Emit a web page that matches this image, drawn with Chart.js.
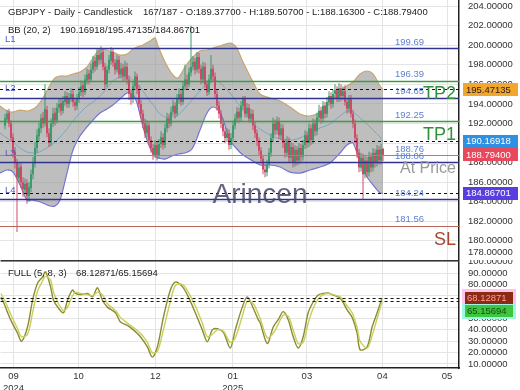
<!DOCTYPE html>
<html>
<head>
<meta charset="utf-8">
<script src="https://cdn.jsdelivr.net/npm/chart.js@4.4.0/dist/chart.umd.min.js"></script>
<style>
  html, body { margin: 0; padding: 0; background: #fff; }
  #wrap { position: relative; width: 520px; height: 390px; overflow: hidden; }
  #priceChart { position: absolute; left: 0; top: 0; }
  #stochChart { position: absolute; left: 0; top: 260px; }
</style>
</head>
<body>
<div id="wrap">
  <canvas id="priceChart" width="520" height="260"></canvas>
  <canvas id="stochChart" width="520" height="130"></canvas>
</div>
<script>
/* GBPJPY daily candles + BB(20,2) + stochastic FULL(5,8,3) */

// ---- candles (index 0..189) ----
const candleOpen = [
  191.8,192.4,193.1,192.0,190.6,189.1,188.0,186.4,187.6,186.0,
  185.2,185.9,184.6,185.4,186.8,187.9,189.5,190.7,191.5,192.6,
  192.0,193.4,191.0,190.0,192.0,193.1,192.3,193.6,194.1,193.3,
  194.2,194.8,194.0,194.6,195.0,194.2,193.8,194.5,195.2,195.9,
  195.2,196.4,197.1,196.5,197.5,198.4,197.8,199.0,198.5,199.3,
  197.8,196.0,197.5,198.4,199.3,198.2,197.5,198.5,197.0,197.7,
  196.8,197.8,196.5,195.0,194.5,195.8,196.8,195.5,194.0,193.0,
  192.0,191.0,191.8,190.3,189.5,188.8,189.8,188.7,189.9,190.6,
  189.8,191.5,192.5,192.0,193.2,193.8,193.0,194.5,195.0,194.2,
  195.8,196.5,196.0,197.2,197.8,198.3,197.5,198.8,197.6,196.5,
  197.8,196.0,195.2,196.5,197.6,196.8,195.0,193.8,193.0,192.0,
  191.2,190.5,191.0,189.8,190.5,191.8,192.5,193.2,192.6,193.8,
  194.5,193.0,193.6,192.5,193.0,191.8,191.0,190.2,189.2,188.4,
  187.3,187.0,187.8,189.0,190.5,192.0,191.3,192.2,190.8,191.5,
  190.0,189.0,190.2,188.5,189.6,188.0,189.3,188.2,189.5,188.6,
  189.8,190.8,190.0,191.5,190.3,192.0,191.2,192.6,193.3,192.5,
  193.8,193.0,194.2,194.8,194.0,195.0,195.4,194.6,195.6,194.8,
  195.3,194.2,193.5,194.5,193.0,192.0,190.5,189.0,187.5,188.5,
  186.8,188.2,187.0,188.6,187.5,189.0,188.0,189.3,188.2,189.377
];
const candleHigh = [
  193.0,193.4,193.5,192.3,191.0,189.6,188.4,188.0,188.0,186.5,
  186.4,186.3,186.0,187.3,188.6,190.1,191.4,192.1,193.0,193.2,
  196.0,193.8,191.5,192.5,193.6,193.6,194.1,194.6,194.5,194.8,
  195.3,195.2,195.1,195.6,195.4,194.6,195.0,195.7,196.4,196.3,
  197.0,197.6,197.5,198.1,198.9,198.8,199.7,199.5,199.9,199.7,
  198.2,197.9,199.0,199.8,199.7,198.6,199.0,198.9,198.2,198.1,
  198.4,198.2,196.9,195.5,196.3,197.3,197.1,195.9,194.4,193.4,
  192.5,192.3,192.1,190.7,189.9,190.3,190.1,190.4,191.2,191.0,
  192.0,193.1,193.0,193.7,194.4,194.2,195.0,195.6,195.4,196.3,
  198.0,197.0,197.7,202.0,198.9,198.7,199.3,199.2,198.0,198.3,
  198.2,196.4,197.0,199.0,198.0,197.2,195.4,194.3,193.4,192.5,
  191.6,191.5,191.4,191.0,192.3,193.0,193.7,193.6,194.3,194.8,
  194.8,194.1,194.0,193.5,193.4,192.2,191.4,190.6,189.6,188.8,
  187.8,188.3,189.5,191.0,192.6,192.4,192.7,192.6,192.0,191.9,
  190.4,190.7,190.6,190.1,190.0,189.8,189.7,190.0,189.9,190.3,
  191.3,191.2,192.0,191.9,192.5,192.4,193.1,193.9,193.7,194.3,
  194.2,194.7,195.3,195.2,195.5,196.0,195.8,196.1,196.0,195.8,
  195.9,194.6,194.9,194.9,193.4,192.4,190.9,189.4,189.0,188.9,
  188.7,188.6,189.1,189.0,189.5,189.4,189.8,189.7,189.9,189.507
];
const candleLow = [
  191.4,192.1,191.6,190.1,188.5,187.4,180.9,186.0,185.4,184.5,
  184.8,183.8,184.0,185.0,186.3,187.5,189.0,190.2,191.0,191.5,
  191.7,190.6,189.6,189.7,191.6,191.8,192.0,193.1,192.8,193.0,
  193.8,193.6,193.6,194.2,193.7,193.3,193.4,194.1,194.8,194.7,
  194.9,196.0,196.0,196.2,197.1,197.3,197.5,198.0,198.1,197.4,
  195.5,195.7,197.1,198.0,197.8,197.0,197.2,196.6,196.6,196.3,
  196.4,196.0,194.4,193.9,194.1,195.4,195.0,193.6,192.5,191.5,
  190.5,190.6,189.8,189.0,188.3,188.5,188.2,188.4,189.5,189.3,
  189.5,191.1,191.5,191.7,192.8,192.5,192.7,194.0,193.8,193.9,
  195.4,195.5,195.7,196.8,197.4,197.0,197.2,197.1,196.0,196.1,
  195.6,194.8,194.9,196.1,196.3,194.6,193.3,192.5,191.5,190.7,
  190.0,190.1,189.3,189.4,190.1,191.4,192.1,192.1,192.2,193.4,
  192.6,192.6,192.1,192.1,191.3,190.5,189.7,188.7,187.9,186.8,
  186.5,186.6,187.4,188.6,190.1,190.8,190.9,190.4,190.3,189.5,
  188.5,188.6,188.0,188.1,187.5,187.6,187.7,187.8,188.1,188.2,
  189.4,189.5,189.6,189.8,189.9,190.7,190.8,192.2,192.0,192.1,
  192.5,192.6,193.8,193.5,193.6,194.6,194.2,194.2,194.3,194.4,
  193.8,193.0,193.1,192.6,191.5,190.0,188.5,187.0,187.1,184.3,
  186.4,186.5,186.6,187.0,187.1,187.5,187.6,187.8,187.8,188.163
];
const candleClose = [
  192.5,193.0,192.0,190.5,189.0,188.0,186.5,187.5,186.0,185.3,
  185.8,184.6,185.5,186.8,188.0,189.5,190.8,191.5,192.5,192.0,
  193.5,191.0,190.0,192.0,193.0,192.3,193.6,194.0,193.3,194.3,
  194.8,194.0,194.6,195.0,194.2,193.8,194.5,195.2,195.8,195.2,
  196.5,197.0,196.5,197.5,198.3,197.8,199.0,198.5,199.2,197.8,
  196.0,197.5,198.5,199.3,198.2,197.5,198.5,197.0,197.6,196.8,
  197.8,196.5,195.0,194.5,195.8,196.8,195.5,194.0,193.0,192.0,
  191.0,191.8,190.3,189.5,188.8,189.8,188.7,189.9,190.6,189.8,
  191.5,192.5,192.0,193.2,193.8,193.0,194.5,195.0,194.2,195.8,
  196.5,196.0,197.2,197.8,198.3,197.5,198.8,197.6,196.5,197.8,
  196.0,195.2,196.5,197.6,196.8,195.0,193.8,193.0,192.0,191.2,
  190.5,191.0,189.8,190.5,191.8,192.5,193.2,192.6,193.8,194.5,
  193.0,193.6,192.5,193.0,191.8,191.0,190.2,189.2,188.4,187.3,
  187.0,187.8,189.0,190.5,192.0,191.3,192.2,190.8,191.5,190.0,
  189.0,190.2,188.5,189.6,188.0,189.3,188.2,189.5,188.6,189.8,
  190.8,190.0,191.5,190.3,192.0,191.2,192.6,193.3,192.5,193.8,
  193.0,194.2,194.8,194.0,195.0,195.4,194.6,195.6,194.8,195.3,
  194.2,193.5,194.5,193.0,192.0,190.5,189.0,187.5,188.5,186.8,
  188.2,187.0,188.6,187.5,189.0,188.0,189.3,188.2,189.4,188.794
];

// ---- Bollinger bands, read at these candle positions ----
const bandX = [
  -2.5,1,4,7.5,11,14,16,19,22.5,25,
  27.5,31,34,37.5,41,44,47.5,51,54,57.5,
  61,64,66,69,72.5,75,76.5,80,83.5,86.5,
  90,93.5,97.5,101,104,107.5,112.5,115.5,119,124,
  127.5,132.5,137.5,142.5,147.5,152.5,157.5,162.5,167.5,171,
  174,177.5,181,184,187.5,189
];
const bandUpper = [
  193.78,193.27,193.17,193.37,193.27,193.48,193.78,194.60,195.93,196.65,
  196.85,196.85,197.06,197.26,197.77,198.69,199.61,199.51,199.30,199.00,
  199.10,199.61,199.82,200.02,200.43,200.74,199.92,198.28,197.06,196.65,
  197.77,198.69,199.41,199.51,199.71,199.92,200.22,199.82,198.28,196.24,
  195.01,194.60,194.29,193.68,192.97,192.76,193.17,194.29,195.32,195.83,
  196.24,197.06,197.36,197.06,195.83,195.47135
];
const bandMiddle = [
  191.02,190.51,190.10,189.49,189.08,188.98,188.98,189.28,189.69,190.10,
  190.61,191.43,192.25,193.07,193.78,194.19,194.81,195.62,196.34,196.75,
  196.85,196.44,196.13,195.32,194.29,193.68,193.17,192.66,192.66,192.86,
  193.58,194.40,195.32,196.13,196.54,196.13,195.11,194.29,193.37,192.04,
  191.43,190.82,190.41,190.31,190.51,191.12,191.53,191.94,192.76,193.27,
  193.17,192.56,191.94,191.33,190.61,190.16918
];
const bandLower = [
  186.93,187.24,187.03,185.71,184.17,184.17,184.07,183.87,183.56,183.56,
  184.17,186.93,189.28,190.72,191.64,192.35,193.07,193.48,193.89,194.50,
  195.11,194.91,194.09,191.64,189.49,188.67,188.47,188.36,188.67,188.88,
  188.98,189.39,191.33,193.07,193.68,193.17,190.31,189.49,188.77,188.16,
  187.75,187.75,187.55,187.03,186.93,187.24,187.55,187.96,188.98,189.80,
  190.00,187.96,186.52,185.71,184.89,184.86701
];

// ---- stochastic FULL(5,8,3) ----
const stochX = [
  -2.5,-1,2.5,6,8,11,13.5,16,18.5,20,22.5,24,26.5,29,31,33.5,35,37.5,
  41,43.5,46,48.5,51,55,57.5,61,64,67.5,71,73.5,76,79,82.5,85,88.5,91.5,
  95,98.5,101,103.5,106,109,112.5,115,118.5,121,124,126.5,127.5,131,134,136.5,
  139,141.5,144,146.5,149,151.5,154,156.5,159,161.5,164,167.5,171,173.5,176,177.5,
  181,183.5,186,188.5
];
const stochK = [
  69,64,49,37,30,42.5,66,81,86.5,91,78,66,59,55,66,75,72,71,
  72,69,77,66,60,55,47,44,40,34,25,16,25,51,75,82,78,69,
  55,40,29.5,40,41,38,24,40,60,69,59,49,46,28,42.5,49,
  56,49,34,24,34,55,64.5,70.6,72,72.5,70.6,68,57.5,51,37,22.5,
  25,42.5,55,68.12871
];
const stochD = [
  72,68,54,41,34,36,55,74,83,87,84,73,63,57,60,70,73,72,
  71,70,73,71,63,57,51,46,42,37,29,20,21,40,65,79,80,73,
  61,46,34,36,40,39,29,33,52,65,63,54,50,33,37,45,
  53,52,40,28,29,46,59,67,71,72,71,69,61,55,42,30,
  24,35,50,65.15694
];

// ---- axes ----
const monthPos = [4, 36.5, 75, 113.75, 150.85, 188.65, 221];
const monthLabels = [['09', '2024'], '10', '12', ['01', '2025'], '03', '04', '05'];
const priceTicks = [180, 182, 184, 186, 188, 190, 192, 194, 196, 198, 200, 202, 204];
const stochTicks = [10, 20, 30, 40, 50, 60, 70, 80, 90, 100];

// ---- horizontal levels ----
const levelValues = [199.69, 196.39, 195.47135, 194.65, 192.25, 190.16918, 188.76, 188.06, 184.86701, 184.24, 181.56];
const levelTags = ['199.69', '196.39', '', '194.65', '192.25', '', '188.76', '188.06', '', '184.24', '181.56'];

// styles kept apart from the values
const NAVY = '#30348f', GREEN = '#3e9a45', DASH = '#111111';
const levelStyles = [
  {color: NAVY, width: 1.5}, {color: GREEN, width: 1.5}, {color: DASH, width: 1, dash: [3, 3]},
  {color: NAVY, width: 1.5}, {color: GREEN, width: 1.5}, {color: DASH, width: 1, dash: [3, 3]},
  {color: '#8c8c8c', width: 1}, {color: NAVY, width: 1.5}, {color: DASH, width: 1, dash: [3, 3]},
  {color: NAVY, width: 1.5}, {color: '#b5685a', width: 1}
];
const leftTags = [{text: 'L1', level: 0}, {text: 'L2', level: 3}, {text: 'L3', level: 7}, {text: 'L4', level: 9}];
const bigTags = [
  {text: 'TP2', level: 1, size: 18, color: '#2f8f3a'},
  {text: 'TP1', level: 4, size: 18, color: '#2f8f3a'},
  {text: 'At Price', level: 6, size: 16, color: '#9a9a9a'},
  {text: 'SL', level: 10, size: 18, color: '#a8452f'}
];
const axisMarks = [
  {value: 195.47135, bg: '#f2a62c', fg: '#222'},
  {value: 190.16918, bg: '#2f8fe0', fg: '#fff'},
  {value: 188.794, bg: '#e8475c', fg: '#fff'},
  {value: 184.86701, bg: '#5a3de0', fg: '#fff'}
];

const FONT = "'Liberation Sans', Arial, sans-serif";
Chart.defaults.font.family = FONT;

function toPoints(xs, ys) {
  return xs.map((x, k) => ({x: x, y: ys[k]}));
}

// right axis: fixed width, no extra label padding at the ends
function fitRightAxis(s) {
  s.width = 61;
  s.paddingTop = 0;
  s.paddingBottom = 0;
}

const last = candleClose.length - 1;
const candleIdx = candleClose.map((c, i) => i);
const candleColors = candleClose.map((c, i) => c >= candleOpen[i] ? '#3d9a6c' : '#d04a68');

// ---- price panel overlay ----
const priceOverlay = {
  id: 'priceOverlay',
  afterDatasetsDraw(chart) {
    const {ctx, chartArea: area, scales: {y}} = chart;
    ctx.save();
    levelValues.forEach((v, k) => {
      const st = levelStyles[k];
      const py = Math.round(y.getPixelForValue(v)) + 0.5;
      ctx.strokeStyle = st.color;
      ctx.lineWidth = st.width;
      ctx.setLineDash(st.dash || []);
      ctx.beginPath();
      ctx.moveTo(area.left, py);
      ctx.lineTo(area.right, py);
      ctx.stroke();
    });
    ctx.setLineDash([]);

    ctx.font = '9.5px ' + FONT;
    ctx.textBaseline = 'bottom';
    ctx.textAlign = 'right';
    ctx.fillStyle = '#5f7fcf';
    levelValues.forEach((v, k) => {
      if (levelTags[k]) ctx.fillText(levelTags[k], 424, y.getPixelForValue(v) - 1);
    });
    ctx.textAlign = 'left';
    ctx.fillStyle = '#4b5cc4';
    leftTags.forEach(t => ctx.fillText(t.text, 5, y.getPixelForValue(levelValues[t.level]) - 4));

    ctx.textAlign = 'right';
    ctx.textBaseline = 'top';
    bigTags.forEach(t => {
      ctx.font = t.size + 'px ' + FONT;
      ctx.fillStyle = t.color;
      ctx.fillText(t.text, 456, y.getPixelForValue(levelValues[t.level]) + 5);
    });

    // watermark
    ctx.font = '28px ' + FONT;
    ctx.fillStyle = 'rgba(70,70,105,0.85)';
    ctx.textAlign = 'center';
    ctx.textBaseline = 'alphabetic';
    ctx.fillText('Arincen', 260, 203);
    ctx.restore();
  },
  afterDraw(chart) {
    const {ctx, scales: {y}} = chart;
    ctx.save();
    ctx.font = '9.5px ' + FONT;
    ctx.fillStyle = '#222';
    ctx.textAlign = 'left';
    ctx.textBaseline = 'middle';
    ctx.fillText('GBPJPY - Daily - Candlestick', 8, 12);
    ctx.fillText('167/187 - O:' + candleOpen[last].toFixed(5) + ' - H:' + candleHigh[last].toFixed(5) +
      ' - L:' + candleLow[last].toFixed(5) + ' - C:' + candleClose[last].toFixed(5), 143, 12);
    ctx.fillText('BB (20, 2)', 8, 30);
    ctx.fillText(bandMiddle[bandMiddle.length - 1].toFixed(5) + '/' + bandUpper[bandUpper.length - 1].toFixed(5) +
      '/' + bandLower[bandLower.length - 1].toFixed(5), 60, 30);

    ctx.fillStyle = '#333';
    ctx.fillText('178.00000', 468, 252);

    axisMarks.forEach(m => {
      const py = y.getPixelForValue(m.value);
      ctx.fillStyle = m.bg;
      ctx.fillRect(463, Math.round(py - 6.5), 55, 13);
      ctx.fillStyle = m.fg;
      ctx.fillText(m.value.toFixed(5), 466, py + 0.5);
    });
    ctx.restore();
  }
};

new Chart(document.getElementById('priceChart'), {
  type: 'line',
  data: {
    datasets: [
      {
        label: 'BB upper',
        data: toPoints(bandX, bandUpper),
        borderColor: '#c9a66b',
        borderWidth: 1.2,
        backgroundColor: 'rgba(150,150,150,0.62)',
        fill: '+1',
        pointRadius: 0,
        tension: 0.3,
        order: 10
      },
      {
        label: 'BB lower',
        data: toPoints(bandX, bandLower),
        borderColor: '#7474d6',
        borderWidth: 1.2,
        fill: false,
        pointRadius: 0,
        tension: 0.3,
        order: 9
      },
      {
        label: 'BB middle',
        data: toPoints(bandX, bandMiddle),
        borderColor: '#7ba7bf',
        borderWidth: 1,
        fill: false,
        pointRadius: 0,
        tension: 0.3,
        order: 8
      },
      {
        type: 'bar',
        label: 'wick',
        data: candleIdx.map(i => ({x: i, y: [candleLow[i], candleHigh[i]]})),
        backgroundColor: candleColors,
        barThickness: 1,
        inflateAmount: 0,
        grouped: false,
        order: 2
      },
      {
        type: 'bar',
        label: 'body',
        data: candleIdx.map(i => ({x: i, y: [candleOpen[i], candleClose[i]]})),
        backgroundColor: candleColors,
        barThickness: 2,
        inflateAmount: 0,
        minBarLength: 1,
        grouped: false,
        order: 1
      }
    ]
  },
  options: {
    responsive: false,
    animation: false,
    events: [],
    layout: { padding: 0, autoPadding: false },
    plugins: { legend: { display: false }, tooltip: { enabled: false } },
    scales: {
      x: {
        type: 'linear', min: -2.5, max: 227, offset: false,
        afterBuildTicks: s => { s.ticks = monthPos.map(v => ({value: v})); },
        afterFit: s => { s.height = 0; },
        ticks: { display: false },
        grid: { color: '#e4e4e4', drawTicks: false, offset: false },
        border: { display: false }
      },
      y: {
        position: 'right', min: 178.04, max: 204.62,
        afterBuildTicks: s => { s.ticks = priceTicks.map(v => ({value: v})); },
        afterFit: fitRightAxis,
        ticks: { padding: 9, autoSkip: false, color: '#333', font: { size: 9.5 }, callback: v => v.toFixed(5) },
        grid: { color: '#e4e4e4', drawTicks: false },
        border: { display: true, color: '#222', width: 1.5 }
      }
    }
  },
  plugins: [priceOverlay]
});

// ---- stochastic panel overlay ----
const stochOverlay = {
  id: 'stochOverlay',
  afterDatasetsDraw(chart) {
    const {ctx, chartArea: area, scales: {y}} = chart;
    ctx.save();
    ctx.strokeStyle = '#111';
    ctx.lineWidth = 1;
    ctx.setLineDash([3, 3]);
    [stochK[stochK.length - 1], stochD[stochD.length - 1]].forEach(v => {
      const py = Math.round(y.getPixelForValue(v)) + 0.5;
      ctx.beginPath();
      ctx.moveTo(area.left, py);
      ctx.lineTo(area.right, py);
      ctx.stroke();
    });
    ctx.setLineDash([]);
    ctx.strokeStyle = '#333';
    ctx.lineWidth = 1.5;
    ctx.beginPath();
    ctx.moveTo(area.left, area.top + 0.75);
    ctx.lineTo(area.right, area.top + 0.75);
    ctx.stroke();
    ctx.restore();
  },
  afterDraw(chart) {
    const {ctx, scales: {y}} = chart;
    const kVal = stochK[stochK.length - 1], dVal = stochD[stochD.length - 1];
    ctx.save();
    ctx.font = '9.5px ' + FONT;
    ctx.textAlign = 'left';
    ctx.textBaseline = 'middle';
    ctx.fillStyle = '#222';
    ctx.fillText('FULL (5, 8, 3)', 8, 13);
    ctx.fillText(kVal.toFixed(5) + '/' + dVal.toFixed(5), 76, 13);

    const ky = y.getPixelForValue(kVal);
    const dy = Math.max(y.getPixelForValue(dVal), ky + 13);
    ctx.fillStyle = '#ffc4ee';
    ctx.fillRect(462, Math.round(ky - 9), 54, 17);
    ctx.fillStyle = '#9ff7e4';
    ctx.fillRect(462, Math.round(dy - 8), 54, 16);
    ctx.fillStyle = '#8c2a12';
    ctx.fillRect(465, Math.round(ky - 6), 48, 12);
    ctx.fillStyle = '#3ec63e';
    ctx.fillRect(465, Math.round(dy - 6), 48, 12);
    ctx.fillStyle = '#ff9f9f';
    ctx.fillText(kVal.toFixed(5), 467, ky + 0.5);
    ctx.fillStyle = '#124d12';
    ctx.fillText(dVal.toFixed(5), 467, dy + 0.5);
    ctx.restore();
  }
};

new Chart(document.getElementById('stochChart'), {
  type: 'line',
  data: {
    datasets: [
      {
        label: '%D',
        data: toPoints(stochX, stochD),
        borderColor: '#c6cf5a',
        borderWidth: 1.4,
        pointRadius: 0,
        tension: 0.3
      },
      {
        label: '%K',
        data: toPoints(stochX, stochK),
        borderColor: '#8c8a32',
        borderWidth: 1.4,
        pointRadius: 0,
        tension: 0.3
      }
    ]
  },
  options: {
    responsive: false,
    animation: false,
    events: [],
    layout: { padding: 0, autoPadding: false },
    plugins: { legend: { display: false }, tooltip: { enabled: false } },
    scales: {
      x: {
        type: 'linear', min: -2.5, max: 227, offset: false,
        afterBuildTicks: s => { s.ticks = monthPos.map(v => ({value: v})); },
        afterFit: s => { s.height = 22; },
        ticks: {
          padding: 3, color: '#333', maxRotation: 0, autoSkip: false,
          font: { size: 9.5, lineHeight: 1.2 },
          callback: (v, i) => monthLabels[i]
        },
        grid: { color: '#e4e4e4', drawTicks: false, offset: false },
        border: { display: true, color: '#222', width: 1.5 }
      },
      y: {
        position: 'right', min: 6.48, max: 101.43,
        afterBuildTicks: s => { s.ticks = stochTicks.map(v => ({value: v})); },
        afterFit: fitRightAxis,
        ticks: { padding: 9, autoSkip: false, color: '#333', font: { size: 9.5 }, callback: v => v.toFixed(5) },
        grid: { color: '#e4e4e4', drawTicks: false },
        border: { display: true, color: '#222', width: 1.5 }
      }
    }
  },
  plugins: [stochOverlay]
});
</script>
</body>
</html>
